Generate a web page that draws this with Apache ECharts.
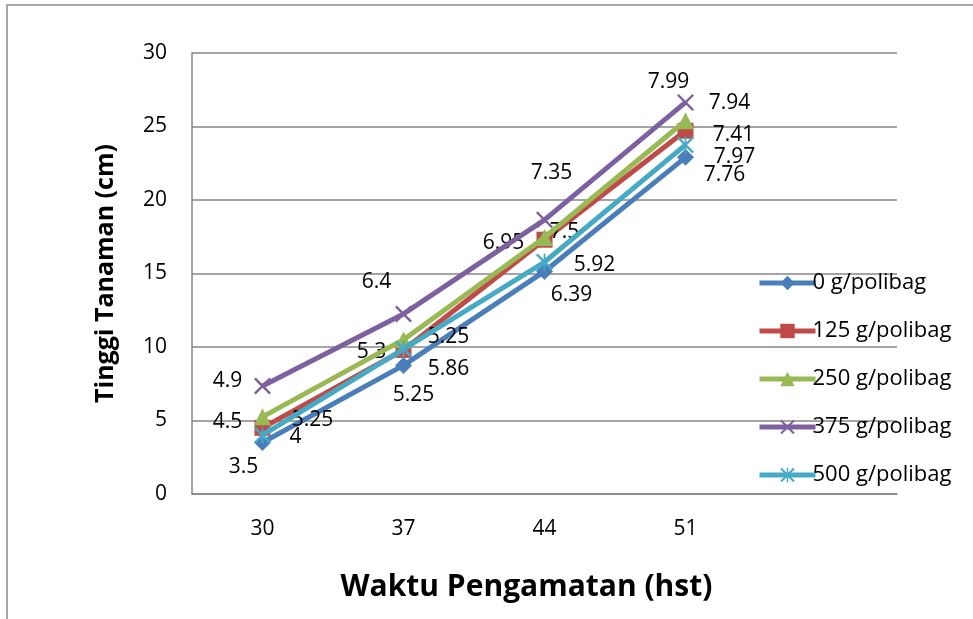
<!DOCTYPE html>
<html>
<head>
<meta charset="utf-8">
<style>
    html, body { margin: 0; padding: 0; background: #fff; }
    #container { width: 973px; height: 619px; }
</style>
</head>
<body>
<div id="container"></div>
<script src="https://cdn.jsdelivr.net/npm/echarts@6/dist/echarts.min.js"></script>
<script>
    // hari setelah tanam (kategori terakhir kosong, seperti di Excel)
    var categories = ['30', '37', '44', '51', ''];
    var seriesNames = ['0 g/polibag', '125 g/polibag', '250 g/polibag', '375 g/polibag', '500 g/polibag'];

    // tinggi tanaman (cm) yang diplot
    var tinggi0 = [3.5, 8.75, 15.14, 22.9];
    var tinggi125 = [4.5, 9.8, 17.3, 24.71];
    var tinggi250 = [5.25, 10.5, 17.45, 25.39];
    var tinggi375 = [7.35, 12.25, 18.65, 26.64];
    var tinggi500 = [4, 9.86, 15.78, 23.75];

    // label data seperti tertulis di grafik
    var label0 = ['3.5', '5.25', '6.39', '7.76'];
    var label125 = ['4.5', '5.3', '7.5', '7.41'];
    var label250 = ['5.25', '5.25', '6.95', '7.94'];
    var label375 = ['4.9', '6.4', '7.35', '7.99'];
    var label500 = ['4', '5.86', '5.92', '7.97'];

    var yTicks = [0, 5, 10, 15, 20, 25, 30];

    // posisi label (digeser manual di grafik asli)
    var labelOffsets = [
        [[-19, 24], [10, 30], [27, 24], [39, 18]],
        [[-35, -6], [-32, 2], [20, -8], [48, 4]],
        [[50, 3], [45, -3], [-41, 6], [44, -18]],
        [[-35, -5], [-27, -32], [7, -47], [-17, -20]],
        [[33, 2], [45, 20], [50, 3], [49, 12]]
    ];

    var colors = ['#4A7EBB', '#BE4B48', '#98B954', '#7D60A0', '#46AAC5'];
    var symbols = [
        'diamond',
        'rect',
        'triangle',
        'path://M0,1L1,0L10,9L9,10Z M9,0L10,1L1,10L0,9Z',
        'path://M0,1L1,0L10,9L9,10Z M9,0L10,1L1,10L0,9Z M4.5,0L5.5,0L5.5,10L4.5,10Z'
    ];
    var symbolSizes = [17, 16, 17, 17, 17];

    var allValues = [tinggi0, tinggi125, tinggi250, tinggi375, tinggi500];
    var allLabels = [label0, label125, label250, label375, label500];
    var fontFamily = '"Open Sans", "Noto Sans", sans-serif';

    var series = seriesNames.map(function (name, i) {
        return {
            name: name,
            type: 'line',
            symbol: symbols[i],
            symbolSize: symbolSizes[i],
            data: allValues[i].map(function (v, j) {
                return { value: v, label: { offset: labelOffsets[i][j] } };
            }),
            lineStyle: { width: 5, color: colors[i] },
            itemStyle: { color: colors[i] },
            label: {
                show: true,
                position: 'inside',
                color: '#000',
                fontSize: 21,
                fontFamily: fontFamily,
                formatter: function (p) { return allLabels[i][p.dataIndex]; }
            },
            z: 2 + i
        };
    });

    var myChart = echarts.init(document.getElementById('container'));
    var option = {
        animation: false,
        color: colors,
        textStyle: { fontFamily: fontFamily },
        grid: { left: 192, right: 76, top: 53, bottom: 125, containLabel: false },
        graphic: [{
            type: 'rect',
            shape: { x: 7, y: 5, width: 1000, height: 700 },
            style: { fill: 'none', stroke: '#8c8c8c', lineWidth: 1.5 },
            silent: true
        }],
        legend: {
            orient: 'vertical',
            left: 752,
            top: 267,
            itemWidth: 56,
            itemHeight: 18,
            itemGap: 26,
            lineStyle: { width: 5 },
            textStyle: { fontSize: 22, lineHeight: 15, color: '#000', fontFamily: fontFamily, padding: [0, 0, 0, -8] },
            data: seriesNames
        },
        xAxis: {
            type: 'category',
            data: categories,
            boundaryGap: true,
            name: 'Waktu Pengamatan (hst)',
            nameLocation: 'middle',
            nameGap: 78,
            nameTextStyle: { fontSize: 30, fontWeight: 'bold', color: '#000', fontFamily: fontFamily, padding: [0, 36, 0, 0] },
            axisLine: { lineStyle: { color: '#868686', width: 1.5 } },
            axisTick: { show: false },
            axisLabel: { fontSize: 21, color: '#000', margin: 25 }
        },
        yAxis: {
            type: 'value',
            min: yTicks[0],
            max: yTicks[yTicks.length - 1],
            interval: 5,
            name: 'Tinggi Tanaman (cm)',
            nameLocation: 'middle',
            nameGap: 74,
            nameTextStyle: { fontSize: 25, fontWeight: 'bold', color: '#000', fontFamily: fontFamily },
            axisLine: { show: true, lineStyle: { color: '#868686', width: 1.5 } },
            axisTick: { show: false },
            splitLine: { lineStyle: { color: '#868686', width: 1.5 } },
            axisLabel: { fontSize: 21, color: '#000', margin: 25 }
        },
        series: series
    };
    if (option && typeof option === 'object') {
        myChart.setOption(option, true);
    }
</script>
</body>
</html>
